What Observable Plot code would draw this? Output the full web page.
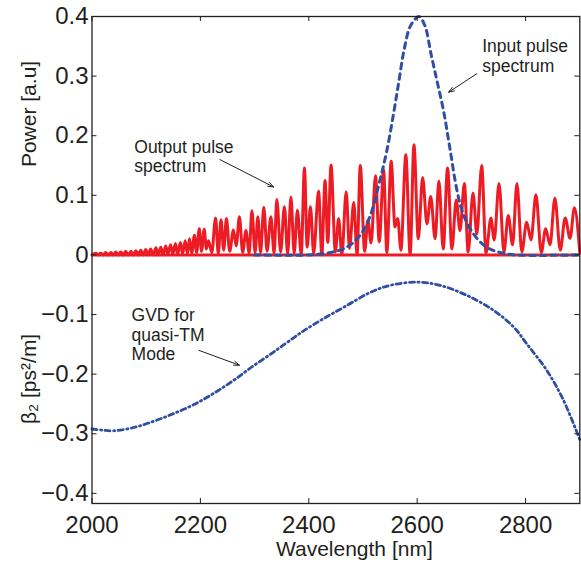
<!DOCTYPE html>
<html><head><meta charset="utf-8">
<script src="https://cdn.jsdelivr.net/npm/d3@7"></script>
<script src="https://cdn.jsdelivr.net/npm/@observablehq/plot@0.6"></script>
<style>
html,body{margin:0;padding:0;background:#fff;}
#chart{width:581px;height:563px;}
svg{font-family:"Liberation Sans",Arial,Helvetica,sans-serif;}
</style></head><body><div id="chart"></div>
<script>
// Output pulse spectrum (alternating peaks / troughs)
const outWl = [2000,2007,2012,2016,2021,2025,2030,2035,2039,2044,2048,2053,2058,2062,2067,2072,2076,2081,2085,2090,2095,2099,2104,2108,2113,2118,2122,2127,2131,2136,2140,2145,2149,2154,2158,2163,2167,2172,2176,2180,2184,2189,2193,2198,2202,2207,2211,2215,2221,2228,2233,2238,2243,2248,2254,2261,2266,2272,2278,2284,2290,2295,2301,2306,2311,2317,2323,2330,2336,2341,2348,2355,2361,2367,2373,2379,2386,2392,2397,2403,2409,2418,2424,2430,2435,2441,2449,2455,2461,2469,2475,2483,2489,2495,2503,2509,2515,2523,2530,2538,2544,2552,2559,2564,2570,2579,2587,2594,2602,2610,2618,2625,2633,2640,2648,2656,2664,2672,2679,2687,2694,2703,2710,2719,2727,2736,2742,2751,2760,2768,2776,2784,2793,2802,2810,2819,2829,2837,2845,2854,2864,2873,2882,2890,2900];
const outPow = [0,0.003,0,0.003,0,0.004,0,0.004,0,0.005,0,0.005,0,0.006,0,0.006,0,0.007,0,0.008,0,0.009,0,0.010,0,0.012,0,0.013,0,0.015,0.001,0.017,0.001,0.019,0.001,0.021,0.002,0.024,0.002,0.027,0.003,0.033,0.004,0.044,0.006,0.043,0.010,0.024,0.004,0.062,0.002,0.059,0.008,0.061,0.006,0.042,0.015,0.064,0.004,0.041,0.003,0.074,0.004,0.064,0.004,0.080,0.006,0.064,0.003,0.093,0.005,0.081,0.002,0.097,0.003,0.075,0.001,0.146,0.013,0.081,0.003,0.107,0.000,0.125,0.021,0.151,0.005,0.061,0.000,0.106,0.011,0.088,0.000,0.150,0.006,0.058,0.020,0.133,0.022,0.143,0.004,0.157,0.047,0.061,0.008,0.168,0.000,0.185,0.027,0.130,0.052,0.098,0.027,0.124,0.010,0.146,0.010,0.092,0.041,0.120,0.005,0.104,0.035,0.150,0.003,0.062,0.025,0.120,0.005,0.066,0.017,0.120,0.005,0.055,0.025,0.101,0.004,0.044,0.017,0.095,0.008,0.062,0.028,0.079,0.003];
// Input pulse spectrum
const inWl  = [2300,2400,2440,2470,2495,2513,2532,2544,2556,2566,2576,2588,2603,2614,2626,2637,2649,2661,2673,2685,2704,2728,2753,2780,2900];
const inPow = [0,0.000,0.004,0.013,0.033,0.065,0.128,0.175,0.235,0.290,0.345,0.385,0.400,0.385,0.335,0.290,0.240,0.175,0.110,0.068,0.035,0.013,0.004,0.000,0];
// GVD for quasi-TM mode
const gvdWl   = [2000,2020,2040,2077,2114,2151,2188,2224,2261,2298,2335,2348,2372,2391,2427,2470,2513,2550,2600,2642,2692,2741,2778,2802,2839,2870,2900];
const gvdBeta = [-0.292,-0.294,-0.295,-0.2895,-0.279,-0.266,-0.251,-0.2325,-0.2105,-0.186,-0.163,-0.1545,-0.139,-0.127,-0.107,-0.085,-0.063,-0.051,-0.0456,-0.051,-0.068,-0.093,-0.121,-0.149,-0.1935,-0.244,-0.31];

const xTicks = [2000,2200,2400,2600,2800];
const yTicks = [0.4,0.3,0.2,0.1,0,-0.1,-0.2,-0.3,-0.4];
const yTickLabels = ["0.4","0.3","0.2","0.1","0","\u22120.1","\u22120.2","\u22120.3","\u22120.4"];

const annText = ["Output pulse\nspectrum","Input pulse\nspectrum","GVD for\nquasi-TM\nMode"];
const annX = [2078,2720,2073];
const annY = [0.195,0.363,-0.0875];

const arrX1 = [2236,2710,2197];
const arrY1 = [0.160,0.304,-0.160];
const arrX2 = [2335,2658,2272];
const arrY2 = [0.114,0.273,-0.185];

const axisLabels = ["Power [a.u]","\u03b2\u2082 [ps\u00b2/m]"];
const axisLabelY = [0.2365,-0.208];

const W = 581, H = 563, mL = 91.5, mR = 1.7, mT = 16, mB = 60;
const fw = W - mL - mR, fh = H - mT - mB, TICK = 5;
const INK = "#231f20", RED = "#ed1c24", BLUE = "#2f4fa3";

const outData = outWl.map((x,i)=>({x, y: outPow[i]}));
const inData = inWl.map((x,i)=>({x, y: inPow[i]}));
const gvdData = gvdWl.map((x,i)=>({x, y: gvdBeta[i]}));
const annData = annText.map((t,i)=>({t, x: annX[i], y: annY[i]}));
const arrData = arrX1.map((x,i)=>({x1: x, y1: arrY1[i], x2: arrX2[i], y2: arrY2[i]}));
const labData = axisLabels.map((t,i)=>({t, y: axisLabelY[i]}));

const chart = Plot.plot({
  width: W, height: H,
  marginLeft: mL, marginRight: mR, marginTop: mT, marginBottom: mB,
  style: {fontFamily: '"Liberation Sans",Arial,Helvetica,sans-serif', color: INK, background: "#fff"},
  x: {domain: [2000, 2900], label: null},
  y: {domain: [-0.417, 0.4], label: null},
  marks: [
    Plot.ruleY([0], {stroke: RED, strokeWidth: 3}),
    Plot.line(outData, {x: "x", y: "y", stroke: RED, strokeWidth: 3, curve: "monotone-x"}),
    Plot.line(inData, {x: "x", y: "y", stroke: BLUE, strokeWidth: 3, strokeDasharray: "5.5,5", curve: "catmull-rom"}),
    Plot.line(gvdData, {x: "x", y: "y", stroke: BLUE, strokeWidth: 2.8, strokeDasharray: "5,3.5,1.2,3.5", curve: "catmull-rom"}),
    Plot.frame({stroke: INK, strokeWidth: 1.3}),
    Plot.tickX(xTicks, {x: d=>d, insetTop: fh - TICK, stroke: INK}),
    Plot.tickX(xTicks, {x: d=>d, insetBottom: fh - TICK, stroke: INK}),
    Plot.tickY(yTicks, {y: d=>d, insetRight: fw - TICK, stroke: INK}),
    Plot.tickY(yTicks, {y: d=>d, insetLeft: fw - TICK, stroke: INK}),
    Plot.axisX(xTicks, {tickSize: 0, tickPadding: 12, fontSize: 24, tickFormat: d => String(d), label: null}),
    Plot.axisY(yTicks, {tickSize: 0, tickPadding: 3.5, fontSize: 24, tickFormat: d => yTickLabels[yTicks.indexOf(d)], label: null}),
    Plot.text(labData, {text: "t", y: "y", frameAnchor: "left", dx: -70.8, rotate: -90, lineAnchor: "top", textAnchor: "middle", fontSize: 21, fill: INK}),
    Plot.text(["Wavelength [nm]"], {text: d=>d, x: [2484], frameAnchor: "bottom", dy: 38, lineAnchor: "top", fontSize: 21, fill: INK}),
    Plot.text(annData, {text: "t", x: "x", y: "y", textAnchor: "start", lineAnchor: "top", lineHeight: 1.12, fontSize: 17.5, fill: INK}),
    Plot.arrow(arrData, {x1: "x1", y1: "y1", x2: "x2", y2: "y2", stroke: INK, strokeWidth: 1, headLength: 9, headAngle: 40})
  ]
});
document.getElementById("chart").appendChild(chart);
</script></body></html>
